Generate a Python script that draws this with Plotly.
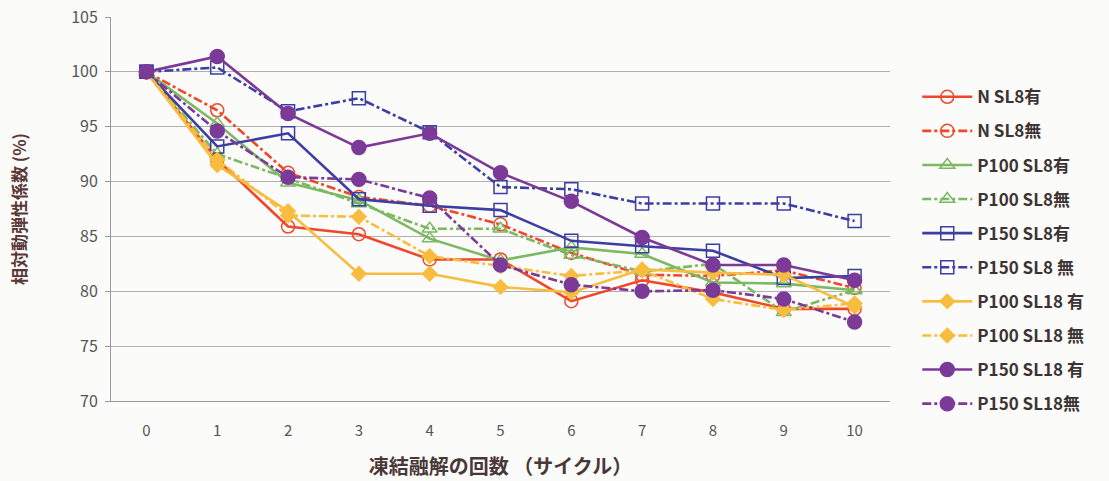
import plotly.graph_objects as go

cycles = [0, 1, 2, 3, 4, 5, 6, 7, 8, 9, 10]
x_tick_labels = [str(c) for c in cycles]

series_names = [
    "N SL8有", "N SL8無",
    "P100 SL8有", "P100 SL8無",
    "P150 SL8有", "P150 SL8 無",
    "P100 SL18 有", "P100 SL18 無",
    "P150 SL18 有", "P150 SL18無",
]

n_sl8_ari = [100, 92.0, 85.9, 85.2, 82.9, 82.9, 79.1, 81.0, 79.9, 78.4, 78.4]
n_sl8_nashi = [100, 96.5, 90.8, 88.6, 87.8, 86.1, 83.5, 81.5, 81.4, 81.9, 80.3]
p100_sl8_ari = [100, 95.3, 89.9, 88.3, 84.8, 82.8, 84.0, 83.4, 80.8, 80.7, 80.1]
p100_sl8_nashi = [100, 92.5, 90.3, 88.0, 85.7, 85.7, 83.3, 81.8, 82.5, 78.1, 80.1]
p150_sl8_ari = [100, 93.2, 94.4, 88.4, 87.8, 87.4, 84.6, 84.1, 83.7, 81.2, 81.4]
p150_sl8_nashi = [100, 100.4, 96.4, 97.6, 94.5, 89.5, 89.3, 88.0, 88.0, 88.0, 86.4]
p100_sl18_ari = [100, 91.5, 87.3, 81.6, 81.6, 80.4, 79.9, 82.0, 81.7, 81.5, 78.6]
p100_sl18_nashi = [100, 92.0, 86.9, 86.8, 83.2, 82.3, 81.4, 81.9, 79.3, 78.3, 78.9]
p150_sl18_ari = [100, 101.4, 96.2, 93.1, 94.4, 90.8, 88.2, 84.9, 82.4, 82.4, 81.0]
p150_sl18_nashi = [100, 94.6, 90.4, 90.2, 88.5, 82.4, 80.6, 80.0, 80.1, 79.3, 77.2]

y_ticks = [70, 75, 80, 85, 90, 95, 100, 105]

RED = "#f0472a"
GREEN = "#7db862"
BLUE = "#3b3fa3"
YELLOW = "#f8bd3f"
PURPLE = "#7c3a98"

traces = [
    (series_names[0], n_sl8_ari, RED, "solid", "circle-open", 13),
    (series_names[1], n_sl8_nashi, RED, "dashdot", "circle-open", 13),
    (series_names[2], p100_sl8_ari, GREEN, "solid", "triangle-up-open", 13),
    (series_names[3], p100_sl8_nashi, GREEN, "dashdot", "triangle-up-open", 13),
    (series_names[4], p150_sl8_ari, BLUE, "solid", "square-open", 13),
    (series_names[5], p150_sl8_nashi, BLUE, "dashdot", "square-open", 13),
    (series_names[6], p100_sl18_ari, YELLOW, "solid", "diamond", 11),
    (series_names[7], p100_sl18_nashi, YELLOW, "dashdot", "diamond", 11),
    (series_names[8], p150_sl18_ari, PURPLE, "solid", "circle", 14),
    (series_names[9], p150_sl18_nashi, PURPLE, "dashdot", "circle", 14),
]

fig = go.Figure()
for i, (name, values, color, dash, symbol, size) in enumerate(traces):
    fig.add_trace(go.Scatter(
        x=cycles, y=values, name=name, mode="lines+markers",
        legendgroup=f"g{i}",
        line=dict(color=color, width=2.6, dash=dash),
        marker=dict(symbol=symbol, size=size, color=color,
                    line=dict(color=color, width=1.5)),
    ))

FONT = "Noto Sans CJK JP"

fig.update_layout(
    width=1109, height=481,
    margin=dict(l=111, r=219, t=17, b=80, autoexpand=False),
    paper_bgcolor="#fbfbf9",
    plot_bgcolor="#fbfbf9",
    font=dict(family=FONT, size=15, color="#555555"),
    showlegend=True,
    legend=dict(
        x=1.035, y=0.838, xanchor="left", yanchor="top",
        font=dict(family=FONT, size=17, color="#3c3434", weight="bold"),
        tracegroupgap=9,
        bgcolor="rgba(0,0,0,0)",
        itemwidth=50,
    ),
)

fig.update_xaxes(
    range=[-0.5, 10.5],
    tickvals=cycles, ticktext=x_tick_labels,
    showgrid=False, zeroline=False,
    showline=True, linecolor="#9a9a9a", linewidth=1,
    ticks="", ticklabelstandoff=16,
    tickfont=dict(size=15, color="#555555"),
    title=dict(text="凍結融解の回数 （サイクル）",
               font=dict(family=FONT, size=20, color="#4a3838", weight="bold"),
               standoff=20),
)

fig.update_yaxes(
    range=[70, 105],
    tickvals=y_ticks,
    showgrid=True, gridcolor="#b0b0b0", gridwidth=1,
    zeroline=False,
    showline=True, linecolor="#9a9a9a", linewidth=1,
    ticks="outside", ticklen=5, tickcolor="#9a9a9a",
    ticklabelstandoff=4,
    tickfont=dict(size=16, color="#555555"),
    title=dict(text="相対動弾性係数 (%)",
               font=dict(family=FONT, size=17, color="#5a3838", weight="bold"),
               standoff=40),
)

fig.write_html("out.html")
